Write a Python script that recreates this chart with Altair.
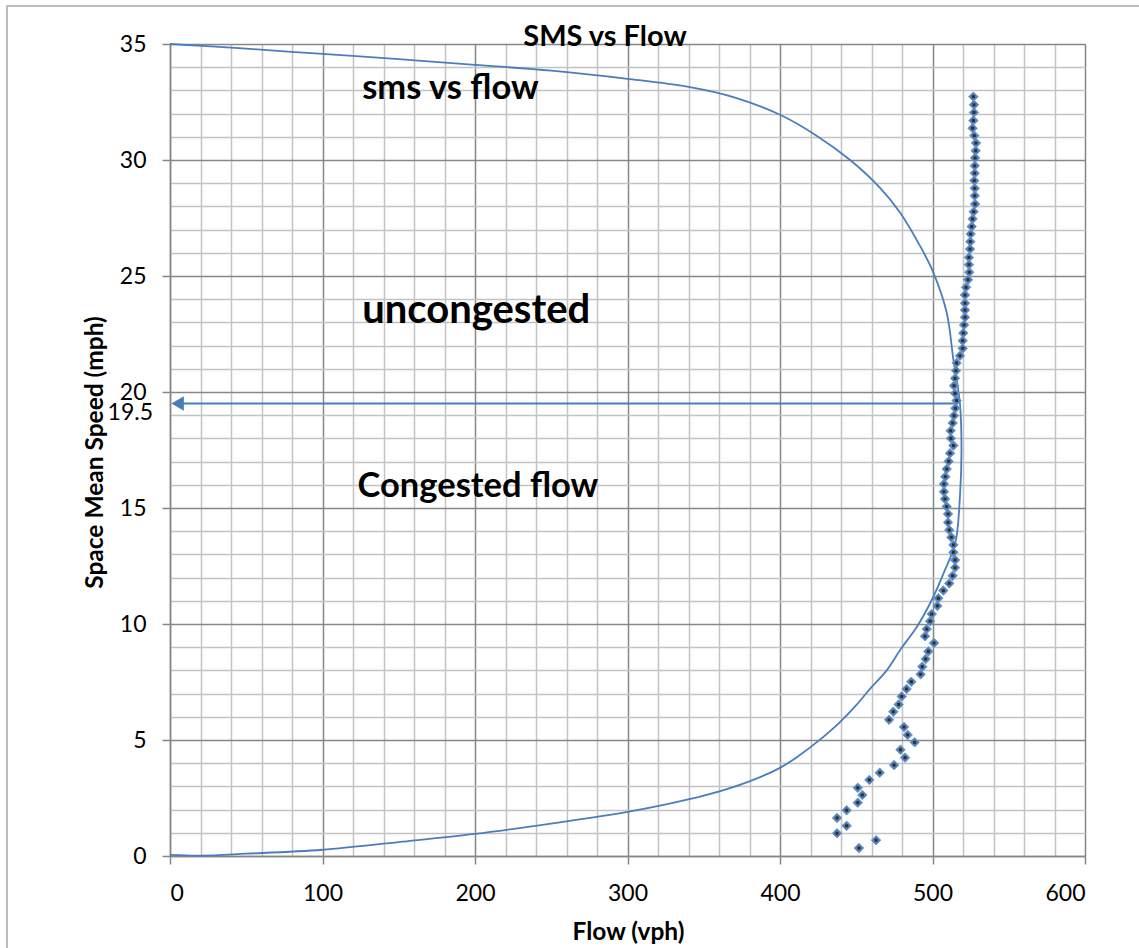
import altair as alt
import pandas as pd

# Observed points (flow vph, space mean speed mph)
obs_flow = [526.8, 527.2, 527.2, 526.8, 526.3, 527.4, 528.5, 528.3, 527.9, 527.7,
            527.7, 527.4, 527.7, 527.7, 527.9, 527.0, 526.3, 525.7, 525.0, 524.8,
            524.6, 523.9, 523.9, 524.1, 523.3, 522.0, 521.3, 521.3, 521.3, 521.3,
            520.7, 520.2, 519.8, 519.8, 518.0,
            515.8, 515.4, 514.8, 514.1, 514.8, 515.8, 515.0, 514.1, 513.2, 511.9,
            512.1, 513.7, 511.5, 510.6, 509.3, 508.4, 507.5, 507.5, 508.2, 509.3,
            510.2, 510.2, 511.0, 512.3, 513.7, 513.7, 514.8, 514.8, 513.2, 511.0,
            507.1, 503.8, 503.2, 499.5, 498.4, 496.2, 495.1, 501.0,
            497.3, 495.5, 493.3, 492.2, 486.1, 483.0, 479.8, 477.8, 474.3, 471.5,
            481.3, 483.7, 488.3, 479.0, 482.0, 474.8, 465.4, 458.6, 451.0, 454.0,
            451.0, 443.7, 437.4, 443.7, 437.4, 463.0, 451.8]
obs_speed = [32.73, 32.38, 32.05, 31.70, 31.37, 31.05, 30.73, 30.40, 30.09, 29.75,
             29.43, 29.11, 28.78, 28.46, 28.10, 27.77, 27.46, 27.13, 26.81, 26.48,
             26.16, 25.80, 25.49, 25.16, 24.84, 24.51, 24.18, 23.83, 23.53, 23.22,
             22.89, 22.54, 22.21, 21.88, 21.56,
             21.25, 20.92, 20.59, 20.27, 19.94, 19.63, 19.30, 18.98, 18.66, 18.33,
             18.00, 17.69, 17.36, 17.01, 16.68, 16.35, 16.03, 15.70, 15.39, 15.06,
             14.74, 14.38, 14.05, 13.74, 13.41, 13.09, 12.76, 12.43, 12.08, 11.75,
             11.44, 11.11, 10.78, 10.43, 10.12, 9.78, 9.47, 9.18,
             8.82, 8.49, 8.16, 7.83, 7.51, 7.20, 6.88, 6.53, 6.22, 5.87,
             5.56, 5.22, 4.90, 4.58, 4.24, 3.92, 3.59, 3.28, 2.94, 2.63,
             2.30, 1.97, 1.64, 1.30, 0.98, 0.68, 0.34]

# Fitted "sms vs flow" curve, traced from (0,0) round to (0,35)
curve_flow = [0, 20, 50, 100, 150, 200, 250, 300, 350, 380, 400, 413, 425, 439, 450,
              459, 470, 479, 490, 500, 508, 515, 518, 519, 518, 513.7, 509.3, 500.5,
              491.8, 478.7, 465.6, 446, 424, 400, 370, 340, 300, 250, 200, 150, 100, 50, 0]
curve_speed = [0.05, 0.02, 0.1, 0.27, 0.6, 0.95, 1.4, 1.9, 2.6, 3.22, 3.8, 4.35, 4.95, 5.75, 6.5,
               7.2, 8.0, 8.9, 9.9, 11.1, 12.3, 13.5, 15.5, 17.5, 19.5, 21.4, 23.43, 25.16,
               26.3, 27.74, 28.8, 30.0, 31.05, 31.95, 32.7, 33.15, 33.5, 33.85, 34.1, 34.35,
               34.57, 34.8, 35.0]

# Arrow marking the speed at maximum flow
arrow_speed = 19.5
arrow_from_flow = 515
arrow_to_flow = 5

x_major = [0, 100, 200, 300, 400, 500, 600]
x_minor = [v for v in range(0, 601, 20) if v % 100]
y_major = [0, 5, 10, 15, 20, 25, 30, 35]
y_minor = [v for v in range(0, 36) if v % 5]

FONT = "Lato"
BLUE = "#4A7EBB"
MAJOR = "#868686"
MINOR = "#c3c3c3"

obs = pd.DataFrame({"flow": obs_flow, "speed": obs_speed})
curve = pd.DataFrame({"flow": curve_flow, "speed": curve_speed,
                      "order": list(range(len(curve_flow)))})
arrow = pd.DataFrame({"x": [arrow_from_flow], "x2": [arrow_to_flow], "y": [arrow_speed]})
one = pd.DataFrame({"a": [0]})

xs = alt.Scale(domain=[0, 600], nice=False, zero=False)
ys = alt.Scale(domain=[0, 35], nice=False, zero=False)

def X(field):
    return alt.X(field, type="quantitative", scale=xs, axis=None)

def Y(field):
    return alt.Y(field, type="quantitative", scale=ys, axis=None)

minor_grid = alt.Chart(obs).mark_point(opacity=0).encode(
    x=alt.X("flow:Q", scale=xs, axis=alt.Axis(orient="bottom", values=x_minor, grid=True,
            gridColor=MINOR, gridWidth=1.5, labels=False, ticks=False, domain=False, title=None)),
    y=alt.Y("speed:Q", scale=ys, axis=alt.Axis(orient="left", values=y_minor, grid=True,
            gridColor=MINOR, gridWidth=1.5, labels=False, ticks=False, domain=False, title=None)),
)

line = alt.Chart(curve).mark_line(color=BLUE, strokeWidth=1.8, interpolate="catmull-rom").encode(
    x=alt.X("flow:Q", scale=xs, axis=alt.Axis(
        orient="bottom", values=x_major, grid=True, gridColor=MAJOR, gridWidth=1.5,
        domainColor=MAJOR, domainWidth=1.5, tickColor=MAJOR, tickSize=8, tickWidth=1.5,
        labelFont=FONT, labelFontSize=23, labelColor="#000000", labelPadding=18,
        title="Flow (vph)", titleFont=FONT, titleFontSize=24.5, titleFontWeight="bold",
        titleColor="#000000", titleX=458, titleY=76, titleBaseline="middle")),
    y=alt.Y("speed:Q", scale=ys, axis=alt.Axis(
        orient="left", values=y_major, grid=True, gridColor=MAJOR, gridWidth=1.5,
        domainColor=MAJOR, domainWidth=1.5, tickColor=MAJOR, tickSize=8, tickWidth=1.5,
        labelFont=FONT, labelFontSize=23, labelColor="#000000", labelPadding=16,
        title="Space Mean Speed (mph)", titleFont=FONT, titleFontSize=24.5,
        titleFontWeight="bold", titleColor="#000000", titleAngle=-90,
        titleX=-75, titleY=408, titleBaseline="middle", titleAlign="center")),
    order="order:Q",
)

pts = alt.Chart(obs).mark_point(shape="diamond", filled=True, size=90, color="#4F81BD",
                                stroke="#6F9BD1", strokeWidth=1, opacity=1).encode(
    x=X("flow"), y=Y("speed"))
pts_c = alt.Chart(obs).mark_point(shape="square", filled=True, size=9, color="#3B2A1E",
                                  opacity=1).encode(
    x=X("flow"), y=Y("speed"))

arrow_line = alt.Chart(arrow).mark_rule(color=BLUE, strokeWidth=2).encode(
    x=X("x"), x2="x2:Q", y=Y("y"))
arrow_head = alt.Chart(arrow).mark_point(shape="triangle-left", filled=True, size=210,
                                         color=BLUE, opacity=1).encode(
    x=X("x2"), y=Y("y"))

speed_label = alt.Chart(arrow).mark_text(font=FONT, fontSize=23, align="right",
                                         baseline="middle", dy=9, color="#000000").encode(
    x=alt.value(-17), y=Y("y"), text=alt.value("19.5"))

def note(txt, fx, sy, fs):
    d = pd.DataFrame({"flow": [fx], "speed": [sy]})
    return alt.Chart(d).mark_text(font=FONT, fontSize=fs, fontWeight="bold", align="left",
                                  baseline="middle", color="#000000").encode(
        x=X("flow"), y=Y("speed"), text=alt.value(txt))

n1 = note("sms vs flow", 126, 33.06, 34.5)
n2 = note("uncongested", 126, 23.5, 40)
n3 = note("Congested flow", 123, 15.9, 34.5)

title = alt.Chart(one).mark_text(font=FONT, fontSize=29, fontWeight="bold", align="center",
                                 baseline="alphabetic", color="#000000").encode(
    x=alt.value(435), y=alt.value(2), text=alt.value("SMS vs Flow"))

frame = alt.Chart(one).mark_rect(fill=None, stroke="#a6a6a6", strokeWidth=1.5).encode(
    x=alt.value(-163), x2=alt.value(1000), y=alt.value(-38), y2=alt.value(960))

chart = alt.layer(minor_grid, line, arrow_line, arrow_head, pts, pts_c, speed_label,
                  n1, n2, n3, title, frame).resolve_axis(
    x="independent", y="independent"
).properties(
    width=915, height=812,
    padding={"left": 170, "top": 44, "right": 54, "bottom": 92},
    autosize=alt.AutoSizeParams(type="none"),
).configure_view(stroke=None).configure(background="white")

chart.save("out.html", embed_options={"renderer": "svg", "actions": False})
